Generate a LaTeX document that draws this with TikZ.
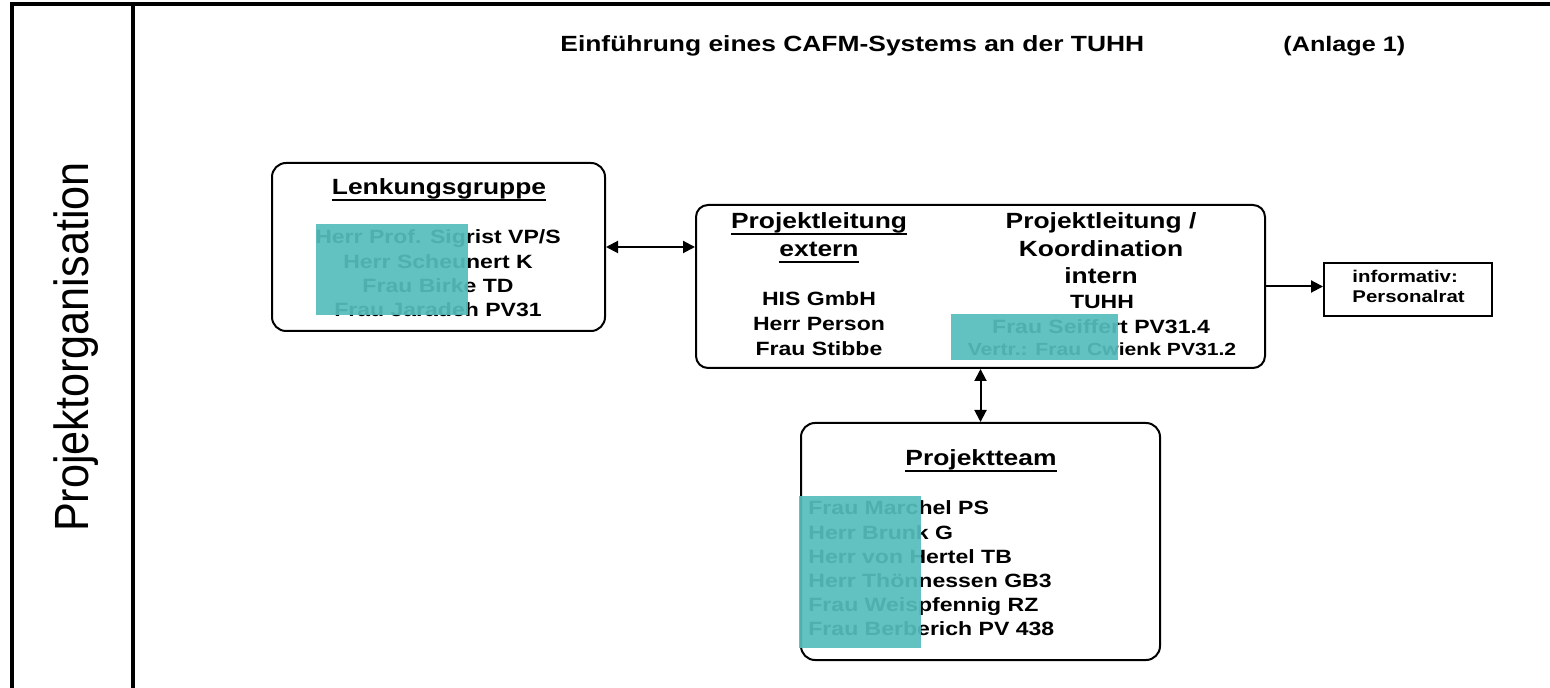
\documentclass[tikz,border=0pt]{standalone}
\usepackage{fontspec}
\setmainfont{Liberation Sans}[FakeStretch=1.2]
\newfontfamily\seitenfont{Liberation Sans}[FakeStretch=0.9]
\usepackage{tikz}
\usetikzlibrary{arrows.meta, positioning}
\definecolor{tuerkis}{RGB}{86,188,188}
\newcommand{\kopf}[1]{\setbox0\hbox{#1}\rlap{\vrule height -2pt depth 3pt width \wd0}\box0}

\begin{document}
\begin{tikzpicture}[x=0.5pt, y=-0.5pt, >={Triangle[length=6pt, width=6pt]},
        kasten/.style={draw, line width=1pt, rounded corners=7pt, inner sep=0pt},
        titel/.style={inner sep=0pt, anchor=base, font=\fontsize{11}{13}\selectfont\bfseries},
        eintrag/.style={inner sep=0pt, anchor=base, font=\fontsize{9.6}{12}\selectfont\bfseries},
        pfeil/.style={line width=1pt},
        schwaerzung/.style={fill=tuerkis, fill opacity=0.93, draw=none}]
        \useasboundingbox (0,0) rectangle (1550,688);

        \draw[line width=2pt] (12,688) -- (12,4.5) -- (1550,4.5);
        \draw[line width=2pt] (132.5,4.5) -- (132.5,688);
        \node[rotate=90, anchor=base, inner sep=0pt, font=\seitenfont\fontsize{24}{28}\selectfont] (seite) at (88,347) {Projektorganisation};

        \node[titel, anchor=base west] (titel) at (560,52) {Einführung eines CAFM-Systems an der TUHH};
        \node[titel, anchor=base west, font=\fontsize{10.5}{13}\selectfont\bfseries] (anlage) at (1283,52) {(Anlage 1)};

        \node[kasten, minimum width=166.5pt, minimum height=84pt] (lenk) at (438.5,247) {};
        \node[kasten, rounded corners=6pt, minimum width=284.5pt, minimum height=81.5pt] (pl) at (980.5,286.5) {};
        \node[kasten, minimum width=179.5pt, minimum height=118.5pt] (team) at (980.5,541.5) {};
        \node[draw, line width=1pt, inner sep=0pt, minimum width=84pt, minimum height=26.5pt] (rat) at (1408,289.5) {};

        \node[titel] (lenk-kopf) at (439,195) {\kopf{Lenkungsgruppe}};
        \foreach \txt [count=\i] in {Herr Prof. Sigrist VP/S, Herr Scheunert K, Frau Birke TD, Frau Jaradeh PV31}
            \node[eintrag] (lenk-\i) at (438, {244+24.3*(\i-1)}) {\txt};

        \node[titel] (ext-kopf1) at (819,229) {\kopf{Projektleitung}};
        \node[titel] (ext-kopf2) at (819,257) {\kopf{extern}};
        \foreach \txt [count=\i] in {HIS GmbH, Herr Person, Frau Stibbe}
            \node[eintrag] (ext-\i) at (819, {306+25*(\i-1)}) {\txt};

        \foreach \txt [count=\i] in {Projektleitung /, Koordination, intern}
            \node[titel] (int-kopf\i) at (1101, {229+27.5*(\i-1)}) {\txt};
        \node[eintrag] (int-1) at (1102,309) {TUHH};
        \node[eintrag] (int-2) at (1101,334) {Frau Seiffert PV31.4};
        \node[eintrag, font=\fontsize{8.8}{11}\selectfont\bfseries] (int-3) at (1102,356) {Vertr.: Frau Cwienk PV31.2};

        \node[titel] (team-kopf) at (981,466) {\kopf{Projektteam}};
        \foreach \txt [count=\i] in {Frau Marchel PS, Herr Brunk G, Herr von Hertel TB, Herr Thönnessen GB3, Frau Weispfennig RZ, Frau Berberich PV 438}
            \node[eintrag, anchor=base west] (team-\i) at (808, {515+24*(\i-1)}) {\txt};

        \node[eintrag, anchor=base west, font=\fontsize{8.5}{10}\selectfont\bfseries] (rat-1) at (1352,283) {informativ:};
        \node[eintrag, anchor=base west, font=\fontsize{8.5}{10}\selectfont\bfseries] (rat-2) at (1352,303) {Personalrat};

        \fill[schwaerzung] (316,224) rectangle (468,315);
        \fill[schwaerzung] (951,314) rectangle (1118,360);
        \fill[schwaerzung] (799,496) rectangle (921,648);

        \draw[pfeil, <->] (lenk.east) -- (lenk.east -| pl.west);
        \draw[pfeil, <->] (pl.south) -- (team.north);
        \draw[pfeil, ->] (pl.east) -- (pl.east -| rat.west);

    \end{tikzpicture}
\end{document}
